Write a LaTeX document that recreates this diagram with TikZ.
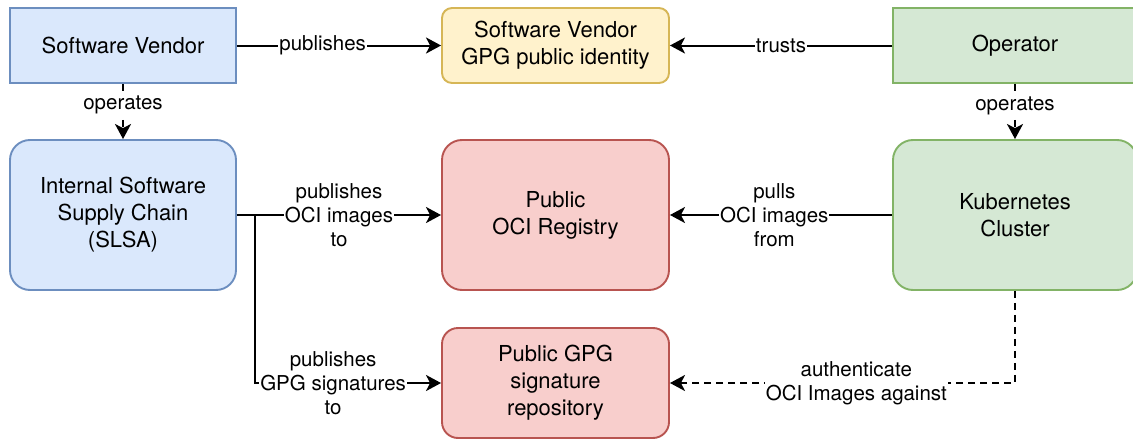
\documentclass[tikz,border=0pt]{standalone}
\usepackage{fontspec}
\setmainfont{TeX Gyre Heros}
\usetikzlibrary{arrows.meta}
\definecolor{bluefill}{HTML}{DAE8FC}
\definecolor{bluedraw}{HTML}{6C8EBF}
\definecolor{yelfill}{HTML}{FFF2CC}
\definecolor{yeldraw}{HTML}{D6B656}
\definecolor{grnfill}{HTML}{D5E8D4}
\definecolor{grndraw}{HTML}{82B366}
\definecolor{redfill}{HTML}{F8CECC}
\definecolor{reddraw}{HTML}{B85450}
\tikzset{
  box/.style={draw, line width=1.9pt, align=center, inner sep=0pt,
    font=\fontsize{22}{27}\selectfont},
  bluebox/.style={box, fill=bluefill, draw=bluedraw},
  yelbox/.style={box, fill=yelfill, draw=yeldraw},
  grnbox/.style={box, fill=grnfill, draw=grndraw},
  redbox/.style={box, fill=redfill, draw=reddraw},
  conn/.style={line width=2pt, -{Stealth[length=15pt,width=16pt,inset=4pt]}},
  dconn/.style={conn, dash pattern=on 7pt off 5pt},
  lbl/.style={fill=white, inner sep=1pt, align=center,
    font=\fontsize{20.5}{24}\selectfont}
}
\begin{document}
\begin{tikzpicture}[x=1pt,y=-1pt]
\path[use as bounding box, clip] (0,0) rectangle (1133,439);
\node[bluebox, minimum width=226pt, minimum height=75pt] (sv) at (123,45.5) {Software Vendor};
\node[yelbox, rounded corners=10pt, minimum width=227pt, minimum height=75pt] (gid) at (555.5,45.5) {Software Vendor\\GPG public identity};
\node[grnbox, minimum width=244pt, minimum height=75pt] (op) at (1015,45.5) {Operator};
\node[bluebox, rounded corners=20pt, minimum width=226pt, minimum height=150pt] (slsa) at (123,215) {Internal Software\\Supply Chain\\(SLSA)};
\node[redbox, rounded corners=20pt, minimum width=227pt, minimum height=150pt] (oci) at (555.5,215) {Public\\OCI Registry};
\node[grnbox, rounded corners=20pt, minimum width=244pt, minimum height=150pt] (k8s) at (1015,215) {Kubernetes\\Cluster};
\node[redbox, rounded corners=16pt, minimum width=227pt, minimum height=110pt] (grepo) at (555.5,383) {Public GPG\\signature\\repository};

\draw[conn] (sv) -- node[lbl, pos=0.42] {publishes} (gid);
\draw[conn] (op) -- node[lbl, pos=0.5] {trusts} (gid);
\draw[dconn] (sv) -- node[lbl, pos=0.38] {operates} (slsa);
\draw[dconn] (op) -- node[lbl, pos=0.4] {operates} (k8s);
\draw[conn] (slsa) -- node[lbl, pos=0.5] {publishes\\OCI images\\to} (oci);
\coordinate (br) at ([xshift=18pt]slsa.east);
\draw[conn] (slsa.east) -- (br) |- node[lbl, pos=0.71] {publishes\\GPG signatures\\to} (grepo.west);
\draw[conn] (k8s) -- node[lbl, pos=0.53] {pulls\\OCI images\\from} (oci);
\draw[dconn] (k8s.south) |- node[lbl, pos=0.73] {authenticate\\OCI Images against} (grepo.east);
\end{tikzpicture}
\end{document}
